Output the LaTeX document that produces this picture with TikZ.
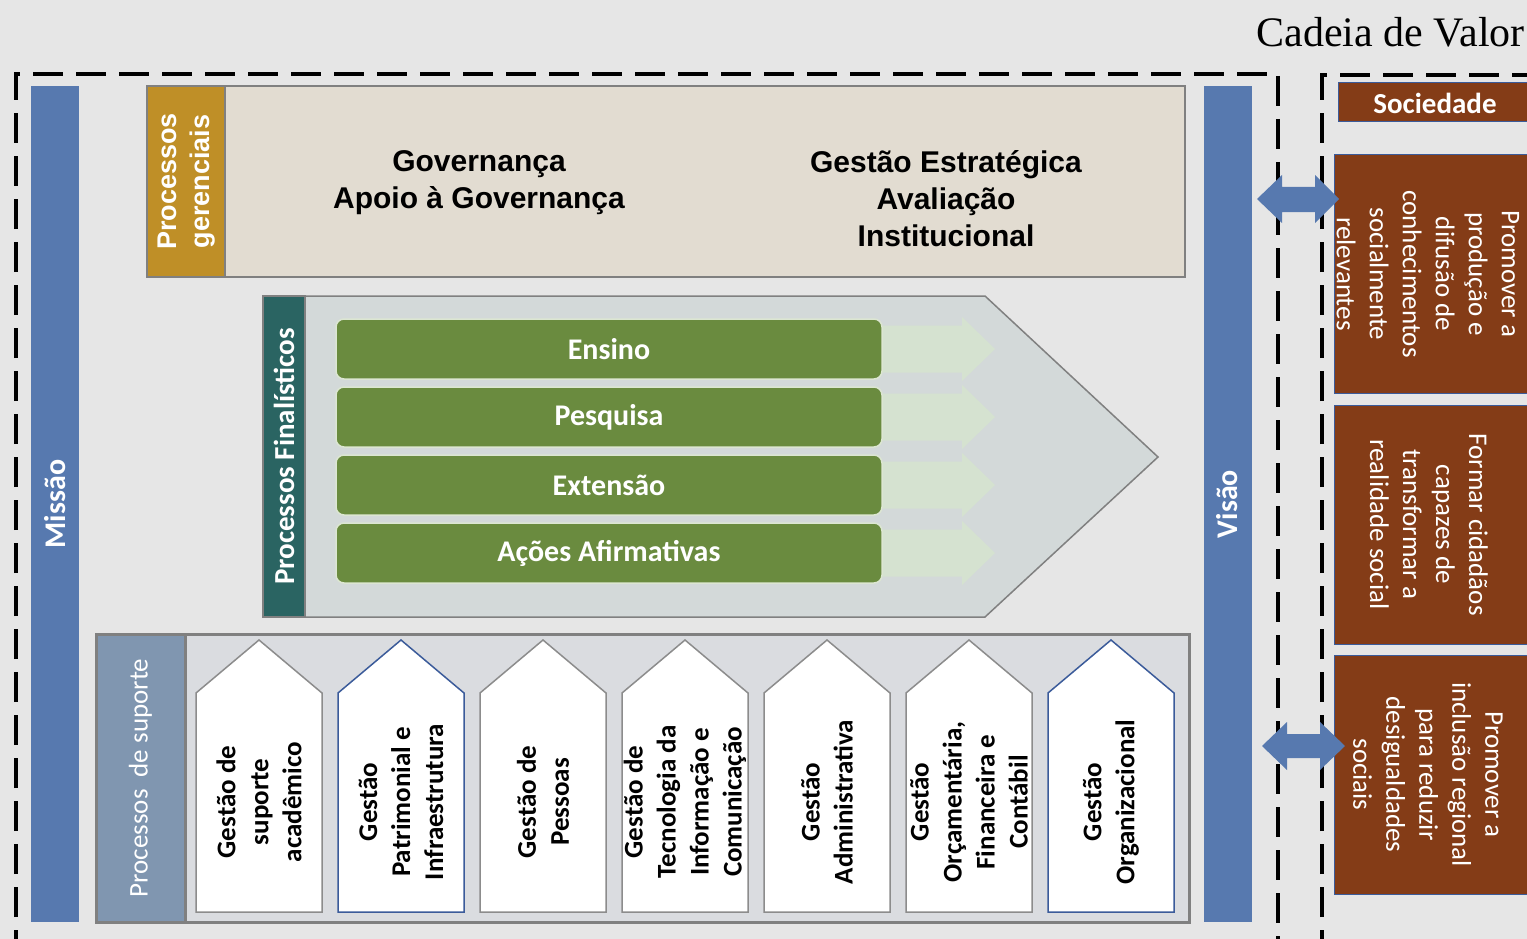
\documentclass[tikz,border=0pt]{standalone}
\usepackage{fontspec}
\setmainfont{Carlito}
\newfontfamily\arialf{Liberation Sans}
\newfontfamily\serf{Liberation Serif}
\definecolor{bgc}{HTML}{E6E6E6}
\definecolor{barblue}{HTML}{5779AF}
\definecolor{goldc}{HTML}{BF8F27}
\definecolor{tanc}{HTML}{E2DCD1}
\definecolor{tealc}{HTML}{2A6462}
\definecolor{pentc}{HTML}{D3D9D9}
\definecolor{greenc}{HTML}{6A8B3F}
\definecolor{greenline}{HTML}{DCE6D2}
\definecolor{lgreen}{HTML}{D5E2D0}
\definecolor{supl}{HTML}{8096B0}
\definecolor{supr}{HTML}{DADCE0}
\definecolor{brownc}{HTML}{843C17}
\definecolor{edgegray}{HTML}{808080}
\definecolor{houseblue}{HTML}{3B5B9A}
\definecolor{housegray}{HTML}{8C8C8C}
\tikzset{
  dashline/.style={line width=3.5pt, dash pattern=on 30pt off 13pt},
  bigbar/.style={fill=barblue, rotate=90, inner sep=0pt, minimum height=48pt,
    minimum width=836pt, text=white, font=\bfseries\fontsize{30}{36}\selectfont},
  govtext/.style={align=center, inner sep=0pt, font=\arialf\bfseries\fontsize{30}{37}\selectfont},
  greenbox/.style={fill=greenc, draw=greenline, line width=1.5pt, rounded corners=8pt,
    minimum width=546pt, minimum height=60pt, inner sep=0pt, text=white,
    font=\bfseries\fontsize{30}{36}\selectfont},
  lightarrow/.style={fill=lgreen},
  house/.style={fill=white, line width=1.5pt},
  housetext/.style={rotate=90, align=center, inner sep=0pt,
    font=\bfseries\fontsize{27}{33}\selectfont},
  brownbox/.style={fill=brownc, draw=houseblue, line width=1pt, inner sep=0pt},
  browntext/.style={rotate=-90, align=center, inner sep=0pt, text=white,
    font=\fontsize{27}{33}\selectfont},
  bluearrow/.style={fill=barblue},
}
\begin{document}
\begin{tikzpicture}[x=1pt, y=-1pt]
\useasboundingbox (0,0) rectangle (1527,939);
\fill[bgc] (0,0) rectangle (1527,939);
\begin{scope}
\clip (0,0) rectangle (1527,939);

% title
\node[anchor=base east, inner sep=0pt, font=\serf\fontsize{42}{48}\selectfont] (title) at (1525,47) {Cadeia de Valor};

% dashed frames
\draw[dashline] (16,960) -- (16,74) -- (1278,74) -- (1278,960);
\draw[dashline] (1322,960) -- (1322,75) -- (1545,75);

% mission / vision bars
\node[bigbar] (missao) at (55,504) {Missão};
\node[bigbar] (visao) at (1227.5,504) {Visão};

% management processes
\node[fill=goldc, draw=edgegray, line width=1.5pt, rotate=90, inner sep=0pt,
  minimum width=191pt, minimum height=79pt, align=center, text=white,
  font=\arialf\bfseries\fontsize{27}{33}\selectfont] (gerenc) at (186.5,181.5) {Processos\\gerenciais};
\node[fill=tanc, draw=edgegray, line width=2pt, inner sep=0pt,
  minimum width=960pt, minimum height=191pt] (govbox) at (705,181.5) {};
\node[govtext] (gov) at (479,183) {Governança\\Apoio à Governança};
\node[govtext] (gest) at (946,198.5) {Gestão Estratégica\\Avaliação\\Institucional};

% core processes
\draw[fill=pentc, draw=edgegray, line width=1.5pt] (305,296) -- (985,296) -- (1158,457) -- (985,617) -- (305,617) -- cycle;
\node[fill=tealc, draw=edgegray, line width=1.5pt, rotate=90, inner sep=0pt,
  minimum width=321pt, minimum height=42pt, text=white,
  font=\bfseries\fontsize{29}{34}\selectfont] (final) at (284,456.5) {Processos Finalísticos};
\foreach \k in {0,1,2,3}{
  \pgfmathsetmacro{\cy}{349+68*\k}
  \fill[lightarrow] (860,\cy-23.5) -- (962,\cy-23.5) -- (962,\cy-32) -- (995,\cy)
     -- (962,\cy+32) -- (962,\cy+23.5) -- (860,\cy+23.5) -- cycle;
}
\node[greenbox] (ensino) at (609,349) {Ensino};
\node[greenbox] (pesquisa) at (609,417) {Pesquisa};
\node[greenbox] (extensao) at (609,485) {Extensão};
\node[greenbox] (acoes) at (609,553) {Ações Afirmativas};

% support processes
\fill[supr] (185,634) rectangle (1189,922);
\node[fill=supl, rotate=90, inner sep=0pt, minimum width=288pt, minimum height=89pt,
  text=white, font=\fontsize{27}{33}\selectfont] (suporte) at (140.5,778) {Processos\ \ de suporte};
\draw[edgegray, line width=3pt] (96,634) rectangle (1189,922);
\draw[edgegray, line width=3pt] (185,634) -- (185,922);

\foreach \i/\col in {0/housegray,1/houseblue,2/housegray,3/housegray,4/housegray,5/housegray,6/houseblue}{
  \pgfmathsetmacro{\xo}{196+142*\i}
  \draw[house, draw=\col] (\xo,912) -- (\xo,693) -- (\xo+63,640) -- (\xo+126,693) -- (\xo+126,912) -- cycle;
}
\node[housetext] (h1) at (259,802) {Gestão de\\suporte\\acadêmico};
\node[housetext] (h2) at (401,802) {Gestão\\Patrimonial e\\Infraestrutura};
\node[housetext] (h3) at (543,802) {Gestão de\\Pessoas};
\node[housetext] (h4) at (685,802) {Gestão de\\Tecnologia da\\Informação e\\Comunicação};
\node[housetext] (h5) at (827,802) {Gestão\\Administrativa};
\node[housetext] (h6) at (969,802) {Gestão\\Orçamentária,\\Financeira e\\Contábil};
\node[housetext] (h7) at (1111,802) {Gestão\\Organizacional};

% society side
\node[brownbox, minimum width=200pt, minimum height=39pt] (socbox) at (1438,102.5) {};
\node[inner sep=0pt, text=white, font=\bfseries\fontsize{29}{34}\selectfont] (soc) at (1435,103) {Sociedade};
\node[brownbox, minimum width=206pt, minimum height=238pt] (boxa) at (1437,274) {};
\node[brownbox, minimum width=206pt, minimum height=239pt] (boxb) at (1437,524.5) {};
\node[brownbox, minimum width=206pt, minimum height=239pt] (boxc) at (1437,774.5) {};
\node[browntext] (ta) at (1428,274) {Promover a\\produção e\\difusão de\\conhecimentos\\socialmente\\relevantes};
\node[browntext] (tb) at (1429,524.5) {Formar cidadãos\\capazes de\\transformar a\\realidade social};
\node[browntext] (tc) at (1428,774.5) {Promover a\\inclusão regional\\para reduzir\\desigualdades\\sociais};

% double arrows
\fill[bluearrow] (1257,199) -- (1282,175) -- (1282,187) -- (1315,187) -- (1315,175) -- (1339,199)
  -- (1315,223) -- (1315,212) -- (1282,212) -- (1282,223) -- cycle;
\fill[bluearrow] (1262,746) -- (1287,722) -- (1287,734) -- (1320,734) -- (1320,722) -- (1345,746)
  -- (1320,770) -- (1320,758) -- (1287,758) -- (1287,770) -- cycle;
\end{scope}
\end{tikzpicture}
\end{document}
